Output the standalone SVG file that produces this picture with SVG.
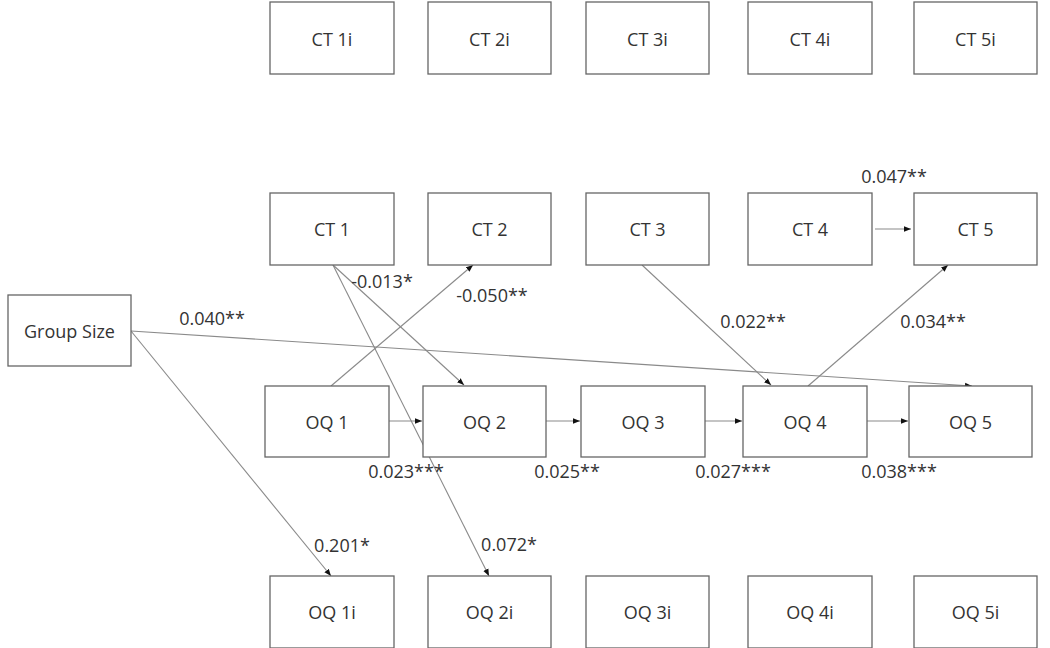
<svg xmlns="http://www.w3.org/2000/svg" width="1050" height="648" viewBox="0 0 1050 648">
<style>
.box{fill:#fff;stroke:#666;stroke-width:1.3}
.t{font-family:"Open Sans","Liberation Sans",sans-serif;font-size:18px;fill:#333;text-anchor:middle;dominant-baseline:central}
.l{font-family:"Open Sans","Liberation Sans",sans-serif;font-size:18px;fill:#333;text-anchor:middle;dominant-baseline:central}
.c{stroke:#8a8a8a;stroke-width:1.1;fill:none;marker-end:url(#ah)}
</style>
<defs>
<marker id="ah" viewBox="0 0 10 10" refX="10" refY="5" markerWidth="7" markerHeight="7" markerUnits="userSpaceOnUse" orient="auto">
<path d="M0,1 L10,5 L0,9 z" fill="#111"/>
</marker>
</defs>
<rect width="1050" height="648" fill="#fff"/>
<g id="connectors">
<line class="c" x1="875" y1="229" x2="911" y2="229"/>
<line class="c" x1="389" y1="421" x2="422" y2="421"/>
<line class="c" x1="546" y1="421" x2="580" y2="421"/>
<line class="c" x1="705" y1="421" x2="742" y2="421"/>
<line class="c" x1="867" y1="421" x2="908" y2="421"/>
<line class="c" x1="333" y1="265" x2="464" y2="385"/>
<line class="c" x1="333" y1="265" x2="489" y2="576"/>
<line class="c" x1="331" y1="386" x2="473" y2="265"/>
<line class="c" x1="642" y1="265" x2="771" y2="385"/>
<line class="c" x1="808" y1="386" x2="948" y2="265"/>
<line class="c" x1="131" y1="331" x2="972" y2="386"/>
<line class="c" x1="131" y1="331" x2="331" y2="576"/>
</g>
<g id="ct1i"><rect class="box" x="270" y="2" width="124" height="72"/><text class="t" x="332" y="39">CT 1i</text></g>
<g id="ct2i"><rect class="box" x="428" y="2" width="123" height="72"/><text class="t" x="489.5" y="39">CT 2i</text></g>
<g id="ct3i"><rect class="box" x="586" y="2" width="123" height="72"/><text class="t" x="647.5" y="39">CT 3i</text></g>
<g id="ct4i"><rect class="box" x="748" y="2" width="124" height="72"/><text class="t" x="810" y="39">CT 4i</text></g>
<g id="ct5i"><rect class="box" x="914" y="2" width="123" height="72"/><text class="t" x="975.5" y="39">CT 5i</text></g>
<g id="ct1"><rect class="box" x="270" y="193" width="124" height="72"/><text class="t" x="332" y="229">CT 1</text></g>
<g id="ct2"><rect class="box" x="428" y="193" width="123" height="72"/><text class="t" x="489.5" y="229">CT 2</text></g>
<g id="ct3"><rect class="box" x="586" y="193" width="123" height="72"/><text class="t" x="647.5" y="229">CT 3</text></g>
<g id="ct4"><rect class="box" x="748" y="193" width="124" height="72"/><text class="t" x="810" y="229">CT 4</text></g>
<g id="ct5"><rect class="box" x="914" y="193" width="123" height="72"/><text class="t" x="975.5" y="229">CT 5</text></g>
<g id="groupsize"><rect class="box" x="8" y="295" width="123" height="71"/><text class="t" x="69.5" y="331">Group Size</text></g>
<g id="oq1"><rect class="box" x="265" y="386" width="124" height="71"/><text class="t" x="327" y="422">OQ 1</text></g>
<g id="oq2"><rect class="box" x="423" y="386" width="123" height="71"/><text class="t" x="484.5" y="422">OQ 2</text></g>
<g id="oq3"><rect class="box" x="581" y="386" width="124" height="71"/><text class="t" x="643" y="422">OQ 3</text></g>
<g id="oq4"><rect class="box" x="743" y="386" width="124" height="71"/><text class="t" x="805" y="422">OQ 4</text></g>
<g id="oq5"><rect class="box" x="909" y="386" width="123" height="71"/><text class="t" x="970.5" y="422">OQ 5</text></g>
<g id="oq1i"><rect class="box" x="270" y="576" width="124" height="72"/><text class="t" x="332" y="612">OQ 1i</text></g>
<g id="oq2i"><rect class="box" x="428" y="576" width="123" height="72"/><text class="t" x="489.5" y="612">OQ 2i</text></g>
<g id="oq3i"><rect class="box" x="586" y="576" width="123" height="72"/><text class="t" x="647.5" y="612">OQ 3i</text></g>
<g id="oq4i"><rect class="box" x="748" y="576" width="124" height="72"/><text class="t" x="810" y="612">OQ 4i</text></g>
<g id="oq5i"><rect class="box" x="914" y="576" width="123" height="72"/><text class="t" x="975.5" y="612">OQ 5i</text></g>
<g id="labels">
<text class="l" x="382" y="281">-0.013*</text>
<text class="l" x="492" y="295">-0.050**</text>
<text class="l" x="212" y="318">0.040**</text>
<text class="l" x="753" y="321">0.022**</text>
<text class="l" x="933" y="321">0.034**</text>
<text class="l" x="894" y="176">0.047**</text>
<text class="l" x="406" y="471">0.023***</text>
<text class="l" x="567" y="471">0.025**</text>
<text class="l" x="733" y="471">0.027***</text>
<text class="l" x="899" y="471">0.038***</text>
<text class="l" x="342" y="545">0.201*</text>
<text class="l" x="509" y="544">0.072*</text>
</g>
</svg>
